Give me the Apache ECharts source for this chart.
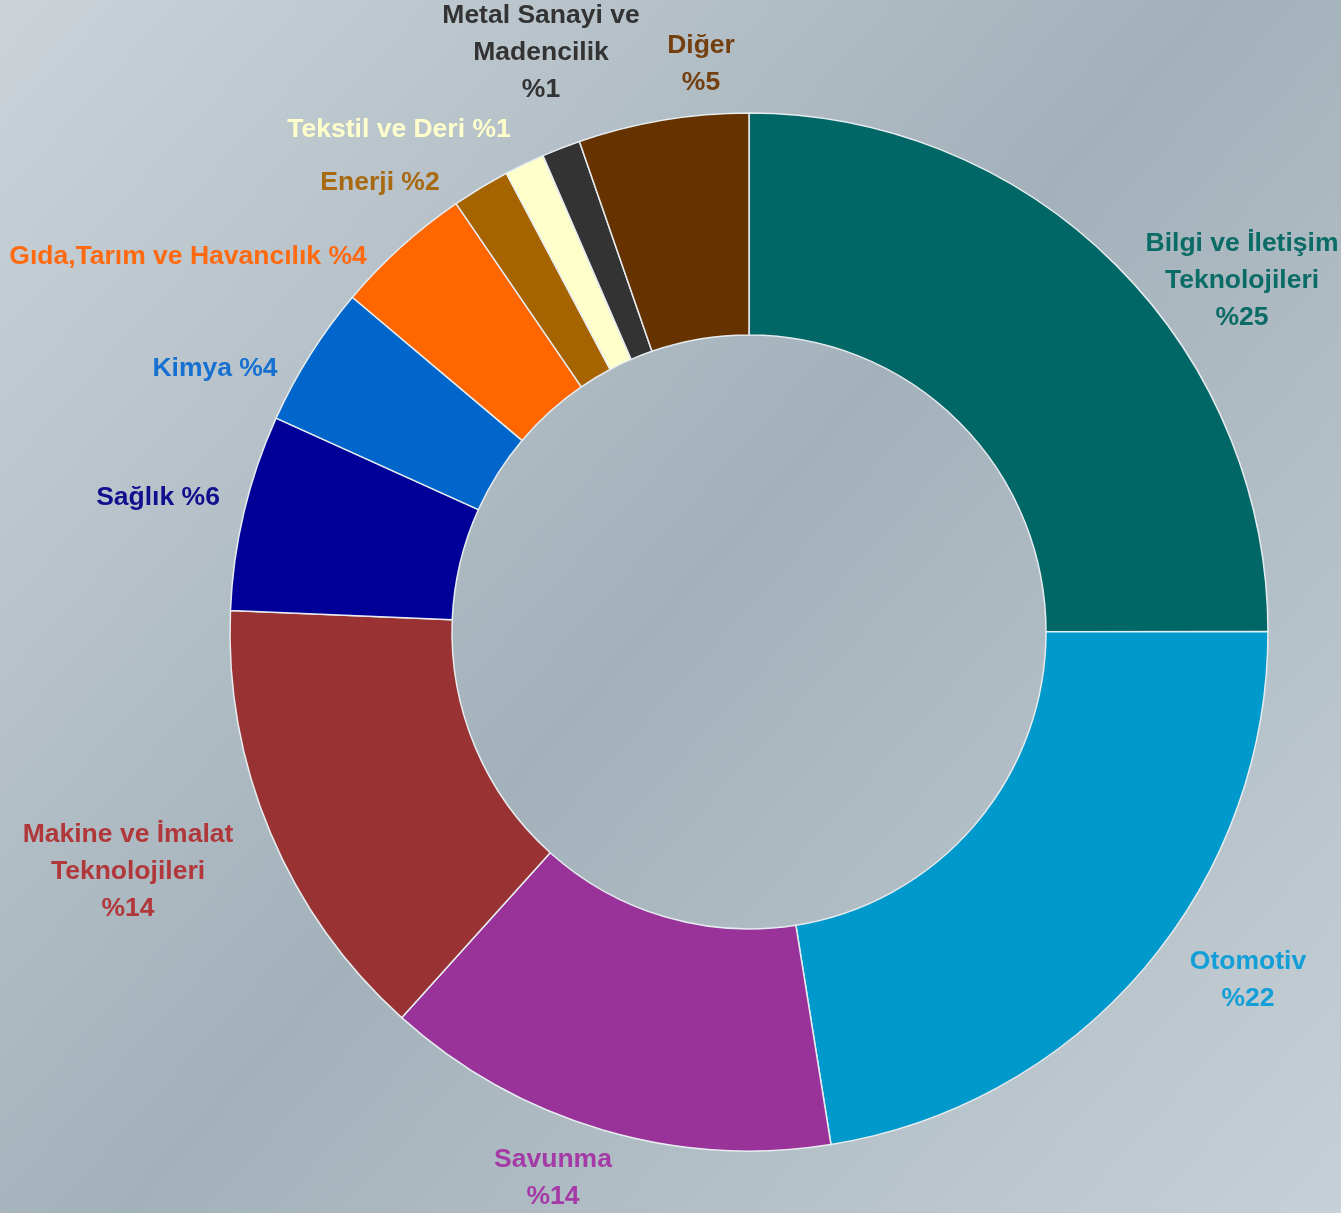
<!DOCTYPE html>
<html>
<head>
<meta charset="utf-8">
<style>
html,body{margin:0;padding:0;width:1341px;height:1213px;overflow:hidden;}
#chart{width:1341px;height:1213px;}
</style>
<script src="https://cdn.jsdelivr.net/npm/echarts@6/dist/echarts.min.js"></script>
</head>
<body>
<div id="chart"></div>
<script>
// ---- data ----
const categories = ['Bilgi ve İletişim Teknolojileri','Otomotiv','Savunma','Makine ve İmalat Teknolojileri','Sağlık','Kimya','Gıda,Tarım ve Havancılık','Enerji','Tekstil ve Deri','Metal Sanayi ve Madencilik','Diğer'];
const values = [25, 22.5, 14.2, 14, 6.1, 4.4, 4.3, 1.8, 1.25, 1.2, 5.3];
const percentLabels = ['%25','%22','%14','%14','%6','%4','%4','%2','%1','%1','%5'];

// ---- styling / layout (not data) ----
const labelNames = ['Bilgi ve İletişim\nTeknolojileri','Otomotiv','Savunma','Makine ve İmalat\nTeknolojileri','Sağlık','Kimya','Gıda,Tarım ve Havancılık','Enerji','Tekstil ve Deri','Metal Sanayi ve\nMadencilik','Diğer'];
const labelSep = ['\n','\n','\n','\n',' ',' ',' ',' ',' ','\n','\n'];
const sliceColors = ['#006666','#0099CC','#993399','#993333','#000099','#0066CC','#FF6600','#A66400','#FFFFCC','#333333','#663300'];
const labelColors = ['#0B6B66','#129ED6','#A43AA6','#B0383A','#10108F','#1670D0','#FF6A10','#A86A10','#FFFFCC','#333333','#74400F'];
const labelPos = [[1242,281],[1248,980],[553,1178],[128,872],[158,498],[215,369],[188,257],[380,183],[399,130],[541,53],[701,64]];

const chart = echarts.init(document.getElementById('chart'), null, {renderer:'canvas'});
const option = {
  backgroundColor: {
    type: 'linear', x: 0, y: 0, x2: 1, y2: 1,
    colorStops: [
      {offset: 0, color: '#cbd3d9'},
      {offset: 0.5, color: '#a3b1ba'},
      {offset: 1, color: '#c6d0d6'}
    ]
  },
  animation: false,
  series: [{
    type: 'pie',
    center: [749, 632],
    radius: [297, 519],
    startAngle: 90,
    clockwise: true,
    avoidLabelOverlap: false,
    itemStyle: {borderColor: '#e6ecef', borderWidth: 1.5},
    label: {
      show: true,
      position: 'outside',
      fontFamily: 'Liberation Sans, Arial, sans-serif',
      fontWeight: 'bold',
      fontSize: 26.5,
      lineHeight: 37,
      align: 'center',
      formatter: p => labelNames[p.dataIndex] + labelSep[p.dataIndex] + percentLabels[p.dataIndex]
    },
    labelLine: {show: false},
    labelLayout: p => ({x: labelPos[p.dataIndex][0], y: labelPos[p.dataIndex][1], align: 'center', verticalAlign: 'middle'}),
    emphasis: {disabled: true},
    data: categories.map((c, i) => ({
      name: c,
      value: values[i],
      itemStyle: {color: sliceColors[i]},
      label: {color: labelColors[i]}
    }))
  }]
};
chart.setOption(option);
</script>
</body>
</html>
